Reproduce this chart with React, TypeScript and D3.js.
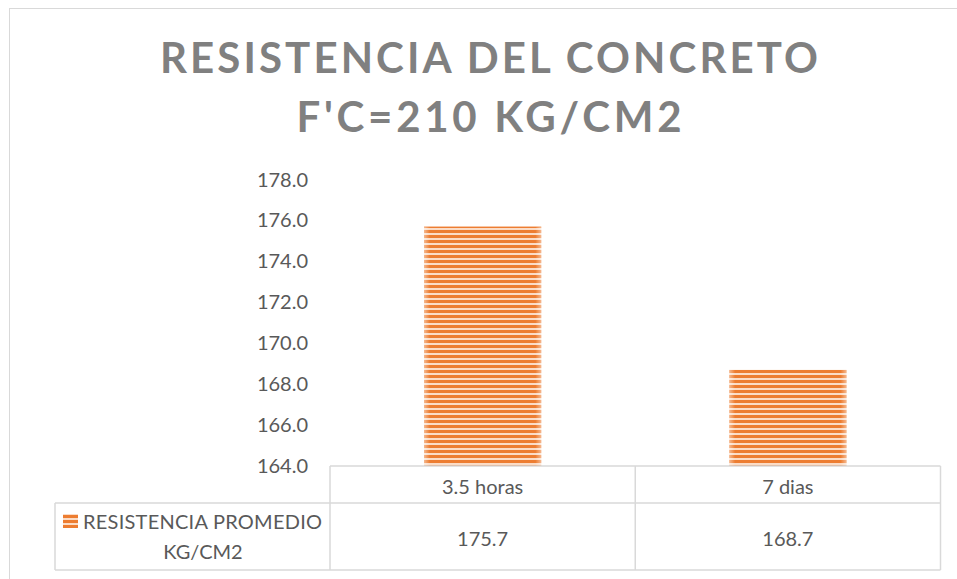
import React from 'react'
import * as d3 from 'd3'

const titleLines = ['RESISTENCIA DEL CONCRETO', "F'C=210 KG/CM2"]
const categories = ['3.5 horas', '7 dias']
const values = [175.7, 168.7]
const seriesName = ['RESISTENCIA PROMEDIO', 'KG/CM2']
const yTicks = [164, 166, 168, 170, 172, 174, 176, 178]

const W = 957
const H = 579
const FONT = 'Lato, "Open Sans", sans-serif'
const TEXT = '#595959'
const GRID = '#d9d9d9'
const ORANGE = '#ed7d31'
const LIGHT = '#fbdcc6'

export default function App() {
  const plotLeft = 330
  const plotRight = 940.5
  const axisY = 466
  const rowY = 503
  const tableBottom = 570
  const legendLeft = 55

  const y = d3.scaleLinear().domain([164, 178]).range([axisY, 179.5])
  const x = d3.scaleBand<string>().domain(categories).range([plotLeft, plotRight]).padding(0)
  const barW = x.bandwidth() * 0.384

  const colLines = [plotLeft, ...categories.map(c => (x(c) ?? 0) + x.bandwidth())]

  return (
    <svg
      width={W}
      height={H}
      style={{ position: 'fixed', left: 0, top: 0, background: '#fff' }}
      fontFamily={FONT}
    >
      <defs>
        <pattern id="stripes" width="6" height="5" patternUnits="userSpaceOnUse">
          <rect width="6" height="5" fill={LIGHT} />
          <rect width="6" height="3" fill={ORANGE} />
        </pattern>
        <linearGradient id="edge" x1="0" x2="1" y1="0" y2="0">
          <stop offset="0" stopColor="#fff" stopOpacity="0.45" />
          <stop offset="0.05" stopColor="#fff" stopOpacity="0" />
          <stop offset="0.95" stopColor="#fff" stopOpacity="0" />
          <stop offset="1" stopColor="#fff" stopOpacity="0.45" />
        </linearGradient>
      </defs>

      {/* chart frame */}
      <rect x={9.5} y={8.5} width={W} height={H} fill="#fff" stroke={GRID} strokeWidth={1} />

      {/* title */}
      <text x={489} y={73} textAnchor="middle" fontSize={42} fontWeight={700} fill="#808080"
        textLength={658} lengthAdjust="spacing">{titleLines[0]}</text>
      <text x={489} y={132} textAnchor="middle" fontSize={42} fontWeight={700} fill="#808080"
        textLength={385} lengthAdjust="spacing">{titleLines[1]}</text>

      {/* y tick labels */}
      {yTicks.map(t => (
        <text key={t} x={308} y={y(t)} dy="0.35em" textAnchor="end" fontSize={20} fill={TEXT}>
          {t.toFixed(1)}
        </text>
      ))}

      {/* bars */}
      {categories.map((c, i) => {
        const bx = (x(c) ?? 0) + (x.bandwidth() - barW) / 2
        const by = y(values[i])
        return (
          <g key={c}>
            <rect x={bx} y={by} width={barW} height={axisY - by} fill="url(#stripes)" />
            <rect x={bx} y={by} width={barW} height={axisY - by} fill="url(#edge)" />
          </g>
        )
      })}

      {/* data table */}
      <g stroke={GRID} strokeWidth={1.5} fill="none">
        <line x1={plotLeft} x2={plotRight} y1={axisY} y2={axisY} />
        <line x1={legendLeft} x2={plotRight} y1={rowY} y2={rowY} />
        <line x1={legendLeft} x2={plotRight} y1={tableBottom} y2={tableBottom} />
        <line x1={legendLeft} x2={legendLeft} y1={rowY} y2={tableBottom} />
        {colLines.map(cx => (
          <line key={cx} x1={cx} x2={cx} y1={axisY} y2={tableBottom} />
        ))}
      </g>

      {categories.map((c, i) => {
        const cx = (x(c) ?? 0) + x.bandwidth() / 2
        return (
          <g key={c} fontSize={20} fill={TEXT} textAnchor="middle">
            <text x={cx} y={(axisY + rowY) / 2 + 2} dy="0.35em">{c}</text>
            <text x={cx} y={(rowY + tableBottom) / 2 + 2} dy="0.35em">{values[i].toFixed(1)}</text>
          </g>
        )
      })}

      {/* legend key + series name */}
      <rect x={63} y={514} width={15} height={14} fill="url(#stripes)" />
      <text x={83} y={529} fontSize={20} fill={TEXT} textLength={239} lengthAdjust="spacing">{seriesName[0]}</text>
      <text x={203} y={559} fontSize={20} fill={TEXT} textAnchor="middle">{seriesName[1]}</text>
    </svg>
  )
}
